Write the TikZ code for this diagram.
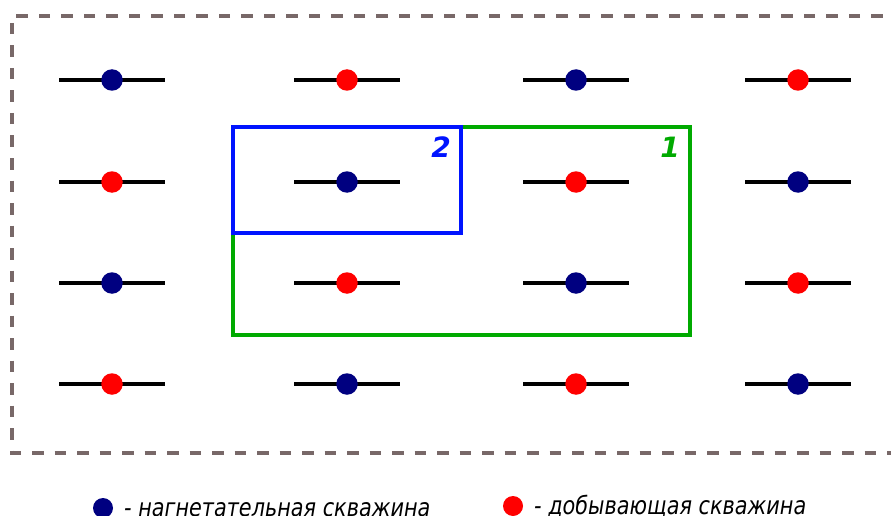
\documentclass[tikz,border=0pt]{standalone}
\usepackage{fontspec}
\usetikzlibrary{calc}
\newfontfamily\legendfont{DejaVu Sans}
\definecolor{injc}{RGB}{0,0,128}
\definecolor{prodc}{RGB}{255,0,0}
\definecolor{bordc}{RGB}{120,104,104}
\definecolor{grnc}{RGB}{0,170,0}
\definecolor{bluc}{RGB}{0,20,255}
\tikzset{
  wellline/.style={line width=3.3pt, black},
  injdot/.style={circle, fill=injc, inner sep=0pt, minimum size=21.5pt},
  proddot/.style={circle, fill=prodc, inner sep=0pt, minimum size=21.5pt},
  legtext/.style={anchor=base west, inner sep=0pt, font=\legendfont\itshape\fontsize{20.8}{24}\selectfont},
  numlab/.style={font=\legendfont\bfseries\itshape\fontsize{28}{30}\selectfont},
}
\begin{document}
\begin{tikzpicture}[x=1pt,y=-1pt]
\useasboundingbox (0,0) rectangle (891,516);
\begin{scope}
\clip (0,0) rectangle (891,516);
% dashed border
\draw[bordc, line width=4pt, dash pattern=on 11.5pt off 11pt] (905,16) -- (12,16) -- (12,453) -- (905,453);
% wells
\foreach \c/\xx in {1/112,2/347,3/576,4/798}{
  \foreach \r/\yy in {1/80,2/182,3/283,4/384}{
    \coordinate (w\c\r) at (\xx,\yy);
    \draw[wellline] ($(w\c\r)+(-53,0)$) -- ($(w\c\r)+(53,0)$);
  }
}
% regions
\draw[grnc, line width=3.5pt] (233,127) rectangle (690,335);
\draw[bluc, line width=3.5pt] (233,127) rectangle (461,233);
\node[numlab, text=bluc] (lab2) at (441,147) {2};
\node[numlab, text=grnc] (lab1) at (670,147) {1};
% dots
\foreach \c/\r in {1/1,3/1,2/2,4/2,1/3,3/3,2/4,4/4}{
  \node[injdot] (d\c\r) at (w\c\r) {};
}
\foreach \c/\r in {2/1,4/1,1/2,3/2,2/3,4/3,1/4,3/4}{
  \node[proddot] (d\c\r) at (w\c\r) {};
}
% legend
\node[injdot, minimum size=20pt] (leginj) at (103,508) {};
\node[legtext] (legtinj) at (124,516.5) {\scalebox{1}[1.2]{- нагнетательная скважина}};
\node[proddot, minimum size=20pt] (legprod) at (513,506) {};
\node[legtext] (legtprod) at (534,514.5) {\scalebox{1}[1.2]{- добывающая скважина}};
\end{scope}
\end{tikzpicture}
\end{document}
